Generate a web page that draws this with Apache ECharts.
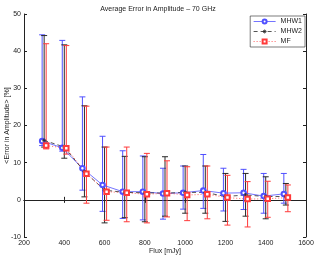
<!DOCTYPE html>
<html><head><meta charset="utf-8">
<script src="https://cdn.jsdelivr.net/npm/echarts@6/dist/echarts.min.js"></script>
<style>html,body{margin:0;padding:0;background:#fff}#c{width:316px;height:255px}</style>
</head><body><div id="c"></div>
<script>
const flux = [300,400,500,600,700,800,900,1000,1100,1200,1300,1400,1500];
const mhw1Mean = [15.8,14.0,8.5,4.0,2.2,2.2,1.7,1.9,2.5,1.8,1.9,1.0,1.6];
const mhw1Low  = [14.6,13.1,2.6,-3.1,-5.0,-5.4,-5.2,-2.5,-2.3,-3.0,-2.6,-3.6,-0.9];
const mhw1High = [44.4,42.9,27.7,17.1,13.2,11.8,8.5,9.1,12.2,8.5,8.2,7.1,7.1];
const mhw2Mean = [16.0,14.2,7.6,2.6,2.0,1.9,1.8,2.0,2.0,0.9,1.3,0.9,0.9];
const mhw2Low  = [14.2,11.2,0.8,-6.2,-4.8,-5.9,-4.4,-3.6,-3.6,-5.8,-4.4,-5.1,-1.4];
const mhw2High = [44.2,41.7,25.3,14.2,11.7,11.6,11.6,9.1,9.1,7.1,7.1,6.2,4.4];
const mfMean = [14.6,13.9,7.0,2.2,1.9,1.5,1.8,1.3,1.5,0.6,0.2,0.3,0.6];
const mfLow  = [13.7,12.3,-0.9,-5.5,-5.9,-6.2,-4.6,-5.6,-5.1,-6.8,-7.3,-4.7,-3.2];
const mfHigh = [42.0,41.5,25.2,14.2,14.2,12.5,10.5,8.9,9.1,6.6,4.9,5.0,4.0];
const xTicks = [200,400,600,800,1000,1200,1400,1600];
const yTicks = [-10,0,10,20,30,40,50];

const FONT = 'Liberation Sans';
const blue = '#5050ff', black = '#2a2a2a', red = '#ff3a3a';
const offsets = {MHW1:-10, MHW2:0, MF:10};

function errData(off, lo, hi){ return flux.map((f,i)=>[f+off, lo[i], hi[i]]); }
function lineData(off, m){ return flux.map((f,i)=>[f+off, m[i]]); }
function errSeries(name, color, off, lo, hi){
  return {
    type:'custom', name:name+'_err', silent:true, z:2,
    encode:{x:0, y:[1,2]},
    data: errData(off, lo, hi),
    renderItem:function(params, api){
      const x = api.value(0);
      const p1 = api.coord([x, api.value(2)]);
      const p2 = api.coord([x, api.value(1)]);
      const w = 3;
      const st = {stroke:color, lineWidth:1};
      return {type:'group', children:[
        {type:'line', shape:{x1:p1[0],y1:p1[1],x2:p2[0],y2:p2[1]}, style:st},
        {type:'line', shape:{x1:p1[0]-w,y1:p1[1],x2:p1[0]+w,y2:p1[1]}, style:st},
        {type:'line', shape:{x1:p2[0]-w,y1:p2[1],x2:p2[0]+w,y2:p2[1]}, style:st}
      ]};
    }
  };
}
const star = 'path://M0,5L10,5M5,0L5,10M1.5,1.5L8.5,8.5M8.5,1.5L1.5,8.5';
const chart = echarts.init(document.getElementById('c'), null, {renderer:'canvas'});
const axisLabel = {fontSize:7, color:'#222', fontFamily:FONT, margin:3, formatter:function(v){return String(v);}};
chart.setOption({
  animation:false,
  title:{text:'Average Error in Amplitude \u2013 70 GHz', left:'center', top:1,
    textStyle:{fontSize:7, fontWeight:'normal', color:'#222', fontFamily:FONT}},
  grid:{left:24, right:10, top:14, bottom:18, containLabel:false, outerBoundsMode:'none'},
  legend:{
    data:['MHW1','MHW2','MF'], orient:'vertical', right:11, top:16,
    backgroundColor:'#fff', borderColor:'#222', borderWidth:0.6, padding:[2,3,2,3],
    itemGap:2, itemWidth:22, itemHeight:5,
    textStyle:{fontSize:7, color:'#222', fontFamily:FONT},
    lineStyle:{width:0.8}, itemStyle:{borderWidth:0.8}
  },
  xAxis:[
    {type:'value', min:xTicks[0], max:xTicks[xTicks.length-1], interval:200,
     name:'Flux [mJy]', nameLocation:'middle', nameGap:11, nameMoveOverlap:false,
     nameTextStyle:{fontSize:7, color:'#222', fontFamily:FONT},
     axisLine:{lineStyle:{color:'#222', width:1}}, axisTick:{inside:true, length:3, lineStyle:{color:'#222'}},
     axisLabel:axisLabel, splitLine:{show:false}},
    {type:'value', position:'top', min:200, max:1600, interval:200,
     axisLine:{lineStyle:{color:'#222', width:1}}, axisTick:{inside:true, length:3, lineStyle:{color:'#222'}},
     axisLabel:{show:false}, splitLine:{show:false}}
  ],
  yAxis:[
    {type:'value', min:yTicks[0], max:yTicks[yTicks.length-1], interval:10,
     name:'<Error in Amplitude> [%]', nameLocation:'middle', nameGap:13, nameRotate:90, nameMoveOverlap:false,
     nameTextStyle:{fontSize:7, color:'#222', fontFamily:FONT},
     axisLine:{lineStyle:{color:'#222', width:1}}, axisTick:{inside:true, length:3, lineStyle:{color:'#222'}},
     axisLabel:axisLabel, splitLine:{show:false}},
    {type:'value', position:'right', min:-10, max:50, interval:10,
     axisLine:{lineStyle:{color:'#222', width:1}}, axisTick:{inside:true, length:3, lineStyle:{color:'#222'}},
     axisLabel:{show:false}, splitLine:{show:false}}
  ],
  series:[
    errSeries('MHW1', blue, offsets.MHW1, mhw1Low, mhw1High),
    errSeries('MHW2', black, offsets.MHW2, mhw2Low, mhw2High),
    errSeries('MF', red, offsets.MF, mfLow, mfHigh),
    {type:'line', name:'MHW1', z:5, data:lineData(offsets.MHW1, mhw1Mean),
     lineStyle:{color:blue, width:0.8, type:'solid'},
     symbol:'emptyCircle', symbolSize:4.5, itemStyle:{color:blue, borderColor:blue, borderWidth:0.7}},
    {type:'line', name:'MHW2', z:5, data:lineData(offsets.MHW2, mhw2Mean),
     lineStyle:{color:black, width:0.8, type:[4,3]},
     symbol:star, symbolSize:4, itemStyle:{color:'none', borderColor:black, borderWidth:0.8}},
    {type:'line', name:'MF', z:5, data:lineData(offsets.MF, mfMean),
     lineStyle:{color:red, width:0.8, type:[1,2]},
     symbol:'emptyRect', symbolSize:4.5, itemStyle:{color:red, borderColor:red, borderWidth:0.7}}
  ]
});
</script></body></html>
